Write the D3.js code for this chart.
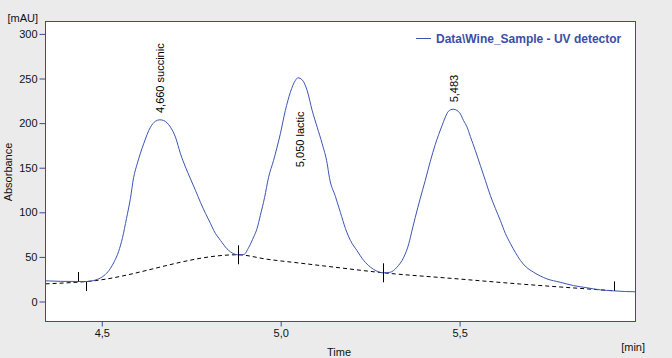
<!DOCTYPE html>
<html>
<head>
<meta charset="utf-8">
<script src="https://cdn.jsdelivr.net/npm/d3@7"></script>
<style>
  html, body { margin: 0; padding: 0; background: #ebebeb; }
  svg { display: block; font-family: "Liberation Sans", Arial, sans-serif; }
</style>
</head>
<body>
<svg id="chart" width="672" height="358"></svg>
<script>
// ---- data ----
const signalTime = [4.343, 4.385, 4.457, 4.482, 4.496, 4.510, 4.524, 4.535, 4.547, 4.558, 4.569, 4.580, 4.589, 4.599, 4.617, 4.636, 4.650, 4.662, 4.673, 4.692, 4.706, 4.720, 4.734, 4.746, 4.762, 4.776, 4.790, 4.804, 4.813, 4.832, 4.850, 4.869, 4.880, 4.897, 4.911, 4.925, 4.934, 4.943, 4.955, 4.966, 4.980, 4.999, 5.013, 5.027, 5.041, 5.048, 5.060, 5.074, 5.088, 5.102, 5.116, 5.130, 5.136, 5.153, 5.167, 5.181, 5.195, 5.213, 5.232, 5.251, 5.269, 5.287, 5.306, 5.325, 5.344, 5.358, 5.367, 5.376, 5.390, 5.404, 5.418, 5.432, 5.451, 5.460, 5.469, 5.482, 5.493, 5.502, 5.511, 5.521, 5.530, 5.544, 5.558, 5.572, 5.586, 5.600, 5.614, 5.628, 5.642, 5.656, 5.670, 5.686, 5.707, 5.744, 5.781, 5.818, 5.856, 5.893, 5.930, 5.963, 5.992];
const signalValue = [23.2, 22.6, 22.4, 24.1, 26.3, 30.3, 37.0, 44.8, 56.1, 71.7, 93.0, 115.5, 139.0, 154.4, 176.8, 195.4, 202.1, 203.7, 202.9, 195.4, 184.2, 165.6, 150.6, 139.3, 124.4, 111.0, 98.7, 87.4, 79.6, 68.4, 59.1, 53.5, 52.4, 52.7, 60.9, 72.9, 81.8, 96.4, 116.6, 139.0, 158.1, 188.0, 214.1, 234.6, 247.8, 250.8, 248.5, 236.5, 214.1, 195.4, 176.8, 154.4, 139.3, 117.7, 99.8, 81.8, 68.4, 57.2, 46.0, 38.5, 34.0, 32.2, 32.8, 38.5, 49.7, 64.7, 79.6, 94.2, 115.5, 135.7, 157.0, 176.0, 197.3, 206.6, 213.3, 215.6, 214.1, 210.4, 202.9, 195.4, 185.0, 169.3, 152.5, 135.7, 118.8, 104.3, 90.8, 76.2, 65.0, 54.9, 46.0, 38.7, 32.8, 25.4, 21.6, 17.9, 15.4, 13.1, 12.0, 11.2, 10.9];

const baselineTime = [4.343, 4.457, 4.880, 4.962, 5.055, 5.148, 5.287, 5.482, 5.670, 5.781, 5.893, 5.931];
const baselineValue = [19.8, 22.4, 52.4, 47.4, 43.0, 38.6, 32.2, 25.8, 19.6, 16.3, 13.1, 12.0];

const markerTime = [4.433, 4.457, 4.880, 5.287, 5.931];
const markerKind = ["up", "down", "both", "both", "up"];

const peakTime = [4.660, 5.050, 5.483];
const peakLabel = ["4,660 succinic", "5,050 lactic", "5,483"];

const yTicks = [0, 50, 100, 150, 200, 250, 300];
const xTicks = [4.5, 5.0, 5.5];
const seriesName = "Data\\Wine_Sample - UV detector";

// ---- layout ----
const svg = d3.select("#chart");
const L = 45.5, R = 635.5, T = 21.5, B = 321.5;
const blue = "#3a4a9c";
const lineBlue = "#3d54b4";

const x = d3.scaleLinear().domain([4.3427, 5.9916]).range([L, R]);
const y = d3.scaleLinear().domain([-22.4, 313.9]).range([B, T]);

svg.append("rect").attr("x", 0).attr("y", 0).attr("width", 672).attr("height", 358).attr("fill", "#ebebeb");
svg.append("rect").attr("x", L).attr("y", T).attr("width", R - L).attr("height", B - T).attr("fill", "#ffffff");

const clip = svg.append("defs").append("clipPath").attr("id", "plotclip");
clip.append("rect").attr("x", L).attr("y", T).attr("width", R - L).attr("height", B - T);

const plot = svg.append("g").attr("clip-path", "url(#plotclip)");

const signal = signalTime.map((t, i) => ({ t, v: signalValue[i] }));
const baseline = baselineTime.map((t, i) => ({ t, v: baselineValue[i] }));

// dashed baseline
plot.append("path")
  .datum(baseline)
  .attr("fill", "none")
  .attr("stroke", "#000")
  .attr("stroke-width", 1)
  .attr("stroke-dasharray", "4,3")
  .attr("d", d3.line().x(d => x(d.t)).y(d => y(d.v)).curve(d3.curveMonotoneX));

// signal
plot.append("path")
  .datum(signal)
  .attr("fill", "none")
  .attr("stroke", lineBlue)
  .attr("stroke-width", 1)
  .attr("d", d3.line().x(d => x(d.t)).y(d => y(d.v)).curve(d3.curveMonotoneX));

// markers
const interp = (t) => {
  const i = d3.bisector(d => d.t).left(signal, t);
  if (i <= 0) return signal[0].v;
  if (i >= signal.length) return signal[signal.length - 1].v;
  const a = signal[i - 1], b = signal[i];
  return a.v + (b.v - a.v) * (t - a.t) / (b.t - a.t);
};
markerTime.forEach((t, i) => {
  const px = Math.round(x(t)) + 0.5;
  const py = y(interp(t));
  const k = markerKind[i];
  const y1 = (k === "down") ? py : py - 9.5;
  const y2 = (k === "up") ? py : py + 9.5;
  plot.append("line").attr("x1", px).attr("x2", px).attr("y1", y1).attr("y2", y2)
    .attr("stroke", "#000").attr("stroke-width", 1);
});

// peak labels
const labelShift = [-7, 89, -7];
peakTime.forEach((t, i) => {
  const py = y(interp(t)) + labelShift[i];
  svg.append("text")
    .attr("transform", `translate(${x(t)},${py}) rotate(-90)`)
    .attr("dy", "0.45em")
    .attr("font-size", 11)
    .attr("fill", "#000")
    .text(peakLabel[i]);
});

// border
svg.append("rect").attr("x", L).attr("y", T).attr("width", R - L).attr("height", B - T)
  .attr("fill", "none").attr("stroke", blue).attr("stroke-width", 1);

// axes
const fmtX = d => d3.format(".1f")(d).replace(".", ",");
const xAxis = svg.append("g").attr("transform", `translate(0,${B})`)
  .call(d3.axisBottom(x).tickValues(xTicks).tickSize(5).tickPadding(3).tickFormat(fmtX));
xAxis.select(".domain").remove();
xAxis.selectAll(".tick line").attr("stroke", blue);
xAxis.selectAll(".tick text").attr("font-size", 11).attr("font-family", "Liberation Sans, Arial, sans-serif").attr("fill", "#111");

const yAxis = svg.append("g").attr("transform", `translate(${L},0)`)
  .call(d3.axisLeft(y).tickValues(yTicks).tickSize(6).tickPadding(2).tickFormat(d3.format("d")));
yAxis.select(".domain").remove();
yAxis.selectAll(".tick line").attr("stroke", blue);
yAxis.selectAll(".tick text").attr("font-size", 11).attr("font-family", "Liberation Sans, Arial, sans-serif").attr("fill", "#111");

// axis titles
svg.append("text").attr("x", 38).attr("y", 22).attr("text-anchor", "end")
  .attr("font-size", 11).attr("fill", "#111").text("[mAU]");
svg.append("text").attr("transform", "translate(12,172) rotate(-90)").attr("text-anchor", "middle")
  .attr("font-size", 11).attr("fill", "#111").text("Absorbance");
svg.append("text").attr("x", 339).attr("y", 356).attr("text-anchor", "middle")
  .attr("font-size", 11).attr("fill", "#111").text("Time");
svg.append("text").attr("x", 645).attr("y", 351).attr("text-anchor", "end")
  .attr("font-size", 11).attr("fill", "#111").text("[min]");

// legend
svg.append("line").attr("x1", 416).attr("x2", 431).attr("y1", 38.5).attr("y2", 38.5)
  .attr("stroke", lineBlue).attr("stroke-width", 1);
svg.append("text").attr("x", 436).attr("y", 43).attr("font-size", 12).attr("font-weight", "bold")
  .attr("fill", "#3b4ea6").text(seriesName);
</script>
</body>
</html>
